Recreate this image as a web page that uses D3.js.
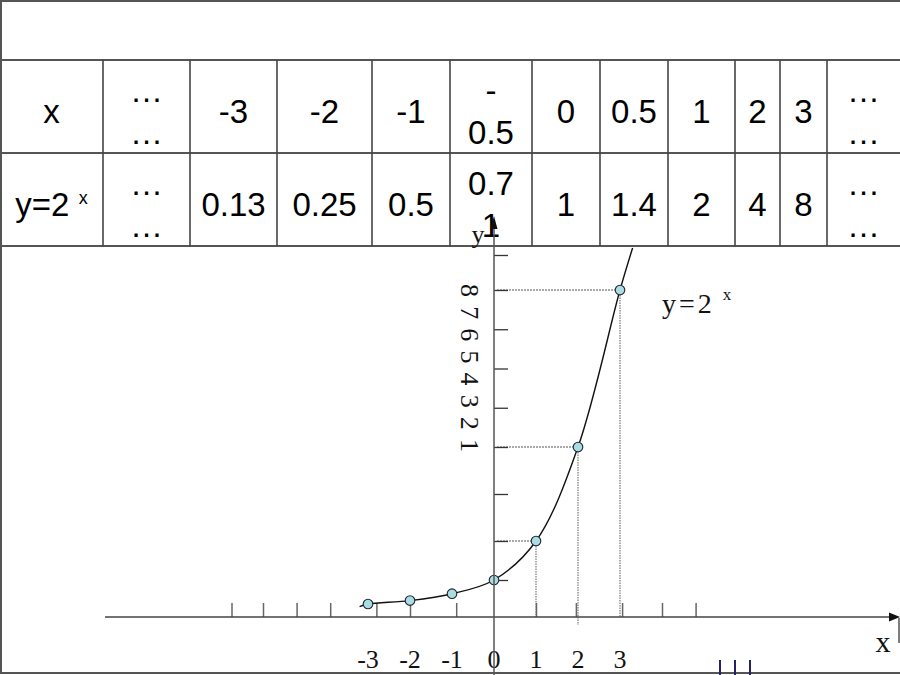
<!DOCTYPE html>
<html><head><meta charset="utf-8">
<script src="https://cdn.jsdelivr.net/npm/d3@7"></script>
<style>html,body{margin:0;padding:0;background:#fff;} svg{display:block;}</style>
</head><body><svg id="chart" width="900" height="675"></svg>
<script>
// ---------------- data ----------------
// table rows (line breaks where the cell text wraps in the picture)
const tableRowX = ["x", "…\n…", "-3", "-2", "-1", "-\n0.5", "0", "0.5", "1", "2", "3", "…\n…"];
const tableRowY = ["y=2^x", "…\n…", "0.13", "0.25", "0.5", "0.7\n1", "1", "1.4", "2", "4", "8", "…\n…"];

// plotted points of y = 2^x
const pointX = [-3, -2, -1, 0, 1, 2, 3];
const pointY = [0.125, 0.25, 0.5, 1, 2, 4, 8];
// curve end points
const curveStart = [-3.2, 0.1];
const curveEnd = [3.3, 9.2];
// points that get dotted guide lines
const guideX = [1, 2, 3];

// axis ticks
const xTickValues = [-6.25, -5.5, -4.7, -3.9, -2.8, -2, -0.9, 1, 1.95, 3.05, 4, 4.8];
const xTickLabelValues = [-3, -2, -1, 0, 1, 2, 3];
const xTickLabels = ["-3", "-2", "-1", "0", "1", "2", "3"];
const yTickValues = [1, 2, 3, 4, 5, 6, 7, 8, 9];
const yAxisText = "8 7 6 5 4 3 2 1";
const curveLabel = ["y", "=", "2", "x"];

// ---------------- layout ----------------
const W = 900, H = 675;
const colWidths = [103, 87, 87, 95, 78, 82, 68, 68, 67, 45, 47, 73];
const rowTops = [60, 153, 246];
const sans = "'Liberation Sans', Arial, sans-serif";
const serif = "'Liberation Serif', 'Times New Roman', serif";

const svg = d3.select("#chart");
svg.append("rect").attr("width", W).attr("height", H).attr("fill", "#fff");

// scales
const x = d3.scaleLinear().domain([-3, 3]).range([368, 620]);
const y = d3.scaleLinear()
  .domain([0, 0.125, 1, 2, 4, 8, 9])
  .range([617, 604, 580, 541, 447, 290, 255]);
const x0 = x(0), y0 = y(0);

// ---------------- graph ----------------
const g = svg.append("g");

// dotted guides
guideX.forEach(v => {
  const i = pointX.indexOf(v);
  const px = x(v), py = y(pointY[i]);
  g.append("line").attr("x1", x0 + 3).attr("x2", px + 6).attr("y1", py).attr("y2", py)
    .attr("stroke", "#555").attr("stroke-width", 1).attr("stroke-dasharray", "2,1");
  g.append("line").attr("x1", px).attr("x2", px).attr("y1", py).attr("y2", y0 + (v === 2 ? 8 : 0))
    .attr("stroke", "#777").attr("stroke-width", 1.2).attr("stroke-dasharray", "1.5,1");
});

// x axis ticks (upwards)
const xAxisG = g.append("g").attr("transform", `translate(0,${y0})`)
  .call(d3.axisTop(x).tickValues(xTickValues).tickSize(14).tickFormat(""));
xAxisG.select(".domain").remove();
xAxisG.selectAll("line").attr("stroke", "#666").attr("stroke-width", 1.5);

// y axis ticks (to the right)
const yAxisG = g.append("g").attr("transform", `translate(${x0},0)`)
  .call(d3.axisRight(y).tickValues(yTickValues).tickSize(14).tickFormat(""));
yAxisG.select(".domain").remove();
yAxisG.selectAll("line").attr("stroke", "#333").attr("stroke-width", 1.3);

// x axis line + arrow
g.append("line").attr("x1", 105).attr("x2", 892).attr("y1", y0).attr("y2", y0)
  .attr("stroke", "#444").attr("stroke-width", 1.5);
g.append("path").attr("d", `M900,${y0} L889,${y0 - 4.5} L889,${y0 + 4.5} Z`).attr("fill", "#111");

// curve
const curveData = [curveStart].concat(pointX.map((v, i) => [v, pointY[i]])).concat([curveEnd]);
g.append("path").datum(curveData)
  .attr("d", d3.line().x(d => x(d[0])).y(d => y(d[1])).curve(d3.curveCatmullRom.alpha(0.5)))
  .attr("fill", "none").attr("stroke", "#111").attr("stroke-width", 1.4);

// points
g.selectAll("circle.pt").data(pointX.map((v, i) => [v, pointY[i]])).enter()
  .append("circle").attr("class", "pt")
  .attr("cx", d => x(d[0])).attr("cy", d => y(d[1])).attr("r", 4.8)
  .attr("fill", "#a9dde2").attr("stroke", "#223").attr("stroke-width", 1.1);

// x tick labels
g.selectAll("text.xl").data(xTickLabelValues).enter().append("text").attr("class", "xl")
  .attr("x", d => x(d)).attr("y", 668).attr("text-anchor", "middle")
  .attr("font-family", serif).attr("font-size", 26).attr("fill", "#111")
  .text((d, i) => xTickLabels[i]);

// rotated y axis text
g.append("text").attr("transform", `translate(461,${284}) rotate(90)`)
  .attr("font-family", serif).attr("font-size", 26).attr("fill", "#111")
  .attr("textLength", 168).attr("lengthAdjust", "spacing")
  .text(yAxisText);

// curve label y=2^x
const cl = g.append("text").attr("x", 662).attr("y", 313)
  .attr("font-family", serif).attr("font-size", 28).attr("fill", "#111")
  .attr("letter-spacing", 3);
cl.append("tspan").text(curveLabel[0] + curveLabel[1] + curveLabel[2]);
cl.append("tspan").attr("dx", 8).attr("dy", -13).attr("font-size", 17).attr("letter-spacing", 0).text(curveLabel[3]);

// x label
g.append("text").attr("x", 883).attr("y", 652).attr("text-anchor", "middle")
  .attr("font-family", serif).attr("font-size", 30).attr("fill", "#111").text("x");

// ---------------- table ----------------
const t = svg.append("g");
const colEdges = [0].concat(Array.from(d3.cumsum(colWidths)));
// horizontal lines
t.append("line").attr("x1", 0).attr("x2", W).attr("y1", 1).attr("y2", 1)
  .attr("stroke", "#555").attr("stroke-width", 2);
rowTops.forEach(yy => t.append("line").attr("x1", 0).attr("x2", W).attr("y1", yy).attr("y2", yy)
  .attr("stroke", "#555").attr("stroke-width", 2));
colEdges.slice(1, -1).forEach(xx => t.append("line").attr("x1", xx).attr("x2", xx)
  .attr("y1", rowTops[0]).attr("y2", rowTops[2]).attr("stroke", "#444").attr("stroke-width", 1.6));

function drawRow(labels, r) {
  const mid = (rowTops[r] + rowTops[r + 1]) / 2 + 16.5;
  labels.forEach((lab, c) => {
    const cx = (colEdges[c] + colEdges[c + 1]) / 2;
    if (lab.includes("^")) {
      const parts = lab.split("^");
      const tx = t.append("text").attr("x", cx).attr("y", mid).attr("text-anchor", "middle")
        .attr("font-family", sans).attr("font-size", 33).attr("fill", "#000");
      tx.append("tspan").text(parts[0] + " ");
      tx.append("tspan").attr("dy", -12).attr("font-size", 18).text(parts[1]);
      return;
    }
    const lines = lab.split("\n");
    lines.forEach((ln, k) => {
      const off = lines.length === 1 ? 0 : (k === 0 ? -21 : 21);
      t.append("text").attr("x", cx).attr("y", mid + off).attr("text-anchor", "middle")
        .attr("font-family", sans).attr("font-size", 33).attr("fill", "#000").text(ln);
    });
  });
}
drawRow(tableRowX, 0);
drawRow(tableRowY, 1);

// y axis line + arrow (drawn over the table)
svg.append("line").attr("x1", x0).attr("x2", x0).attr("y1", H).attr("y2", 226)
  .attr("stroke", "#555").attr("stroke-width", 1.5);
svg.append("path").attr("d", `M${x0},216 L${x0 - 3.5},229 L${x0 + 3.5},229 Z`).attr("fill", "#111");
svg.append("text").attr("x", 478).attr("y", 243).attr("text-anchor", "middle")
  .attr("font-family", serif).attr("font-size", 26).attr("fill", "#111").text("y");

// ---------------- frame ----------------
svg.append("line").attr("x1", 1).attr("x2", 1).attr("y1", 0).attr("y2", 674)
  .attr("stroke", "#555").attr("stroke-width", 2);
svg.append("line").attr("x1", 0).attr("x2", W).attr("y1", 673).attr("y2", 673)
  .attr("stroke", "#555").attr("stroke-width", 2);
svg.append("line").attr("x1", 899).attr("x2", 899).attr("y1", 618).attr("y2", 643)
  .attr("stroke", "#555").attr("stroke-width", 1.5);
[720, 735, 750].forEach(xx => svg.append("line").attr("x1", xx).attr("x2", xx)
  .attr("y1", 660).attr("y2", 675).attr("stroke", "#23236b").attr("stroke-width", 2));
</script></body></html>
